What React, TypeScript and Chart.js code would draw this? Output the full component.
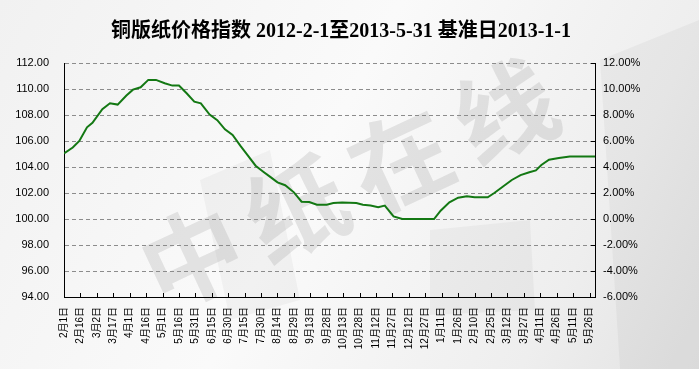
import React, { useEffect, useRef } from "react";
import { Chart, registerables } from "chart.js";

Chart.register(...registerables);

const titleText = "铜版纸价格指数 2012-2-1至2013-5-31 基准日2013-1-1";
const watermarkChars = ["中", "纸", "在", "线"];

// day offsets from 2012-02-01
const dayOffsets = [0, 8, 14, 21, 26, 35, 42, 49, 57, 63, 70, 77, 84, 92, 99, 105, 112, 119, 125, 133, 140, 147, 154, 161, 168, 175, 182, 189, 195, 202, 210, 217, 224, 231, 240, 246, 254, 267, 273, 280, 287, 293, 301, 309, 324, 338, 344, 352, 360, 368, 375, 387, 393, 401, 409, 417, 425, 431, 436, 443, 452, 462, 470, 485];
const indexValues = [105.05, 105.5, 106.0, 107.05, 107.4, 108.45, 108.9, 108.8, 109.5, 109.95, 110.13, 110.7, 110.7, 110.44, 110.26, 110.26, 109.67, 109.03, 108.9, 108.03, 107.6, 106.9, 106.46, 105.64, 104.87, 104.1, 103.64, 103.2, 102.82, 102.6, 102.05, 101.33, 101.3, 101.1, 101.1, 101.23, 101.26, 101.23, 101.1, 101.03, 100.9, 101.03, 100.2, 100.0, 100.0, 100.0, 100.64, 101.28, 101.64, 101.74, 101.67, 101.67, 102.0, 102.5, 103.0, 103.38, 103.6, 103.74, 104.15, 104.56, 104.69, 104.8, 104.8, 104.8];

const tickLabels = ["2月1日", "2月16日", "3月2日", "3月17日", "4月1日", "4月16日", "5月1日", "5月16日", "5月31日", "6月15日", "6月30日", "7月15日", "7月30日", "8月14日", "8月29日", "9月13日", "9月28日", "10月13日", "10月28日", "11月12日", "11月27日", "12月12日", "12月27日", "1月11日", "1月26日", "2月10日", "2月25日", "3月12日", "3月27日", "4月11日", "4月26日", "5月11日", "5月26日"];
const tickDays = tickLabels.map((_, i) => i * 15);
const totalDays = 485;

const bgPlugin = {
  id: "bg",
  beforeDraw(chart: any) {
    const { ctx, width, height } = chart;
    ctx.save();
    const g = ctx.createLinearGradient(0, 0, width, height);
    g.addColorStop(0, "#f1f1f1");
    g.addColorStop(0.45, "#fafafa");
    g.addColorStop(0.8, "#eeeeee");
    g.addColorStop(1, "#e2e2e2");
    ctx.fillStyle = g;
    ctx.fillRect(0, 0, width, height);
    // faint shapes
    ctx.fillStyle = "rgba(0,0,0,0.035)";
    ctx.beginPath();
    ctx.moveTo(600, 60); ctx.lineTo(699, 20); ctx.lineTo(699, 369); ctx.lineTo(620, 369);
    ctx.closePath(); ctx.fill();
    ctx.beginPath();
    ctx.moveTo(430, 230); ctx.lineTo(530, 220); ctx.lineTo(535, 310); ctx.lineTo(430, 315);
    ctx.closePath(); ctx.fill();
    ctx.beginPath();
    ctx.moveTo(200, 180); ctx.lineTo(270, 150); ctx.lineTo(300, 300); ctx.lineTo(230, 320);
    ctx.closePath(); ctx.fill();
    // watermark
    ctx.fillStyle = "rgba(90,90,90,0.14)";
    ctx.font = "bold 100px 'Noto Sans CJK SC'";
    ctx.textAlign = "center";
    ctx.textBaseline = "middle";
    const ang = -25 * Math.PI / 180;
    const cx0 = 192, cy0 = 257, step = 115;
    watermarkChars.forEach((c, i) => {
      ctx.save();
      ctx.translate(cx0 + Math.cos(ang) * step * i, cy0 + Math.sin(ang) * step * i);
      ctx.rotate(ang);
      ctx.fillText(c, 0, 0);
      ctx.restore();
    });
    ctx.restore();
  },
  afterDraw(chart: any) {
    const { ctx, chartArea } = chart;
    const xs = chart.scales.x;
    const yr = chart.scales.yR;
    ctx.save();
    ctx.strokeStyle = "#000";
    ctx.lineWidth = 1;
    ctx.beginPath();
    tickDays.forEach((d) => {
      const px = Math.round(xs.getPixelForValue(d)) + 0.5;
      ctx.moveTo(px, chartArea.bottom);
      ctx.lineTo(px, chartArea.bottom - 4);
    });
    yr.ticks.forEach((t: any) => {
      const py = Math.round(yr.getPixelForValue(t.value)) + 0.5;
      ctx.moveTo(chartArea.right, py);
      ctx.lineTo(chartArea.right - 4, py);
    });
    ctx.stroke();
    // title
    ctx.fillStyle = "#000";
    ctx.font = "bold 20px 'Liberation Serif', 'Noto Sans CJK SC'";
    ctx.textAlign = "center";
    ctx.textBaseline = "middle";
    ctx.fillText(titleText, 341, 32, 473);
    ctx.restore();
  },
};

export default function App() {
  const ref = useRef<HTMLCanvasElement>(null);
  useEffect(() => {
    const canvas = ref.current!;
    const tickFont = { family: "'Liberation Sans', 'Noto Sans CJK SC'", size: 11 };
    const chart = new Chart(canvas, {
      type: "line",
      data: {
        datasets: [
          {
            data: dayOffsets.map((d, i) => ({ x: d, y: indexValues[i] })),
            borderColor: "#137813",
            borderWidth: 2,
            pointRadius: 0,
            tension: 0,
            fill: false,
            yAxisID: "y",
          },
        ],
      },
      options: {
        animation: false,
        responsive: false,
        devicePixelRatio: 1,
        layout: { padding: { top: 63, left: 0, right: 0, bottom: 0 } },
        plugins: { legend: { display: false }, title: { display: false }, tooltip: { enabled: false } },
        scales: {
          x: {
            type: "linear",
            min: 0,
            max: totalDays,
            afterBuildTicks: (s: any) => {
              s.ticks = tickDays.map((v) => ({ value: v }));
            },
            afterFit: (s: any) => { s.height = 72; },
            grid: { display: false, drawTicks: false },
            border: { display: true, color: "#000", width: 1 },
            ticks: {
              autoSkip: false,
              minRotation: 90,
              maxRotation: 90,
              padding: 10,
              color: "#000",
              font: { family: "'Liberation Sans', 'Noto Sans CJK SC'", size: 10 },
              callback: (_v: any, i: number) => tickLabels[i],
            },
          },
          y: {
            position: "left",
            min: 94,
            max: 112,
            afterFit: (s: any) => { s.width = 64; },
            grid: { color: "#8c8c8c", lineWidth: 1, drawTicks: false },
            border: { display: true, color: "#000", width: 1, dash: [4, 3] },
            ticks: {
              stepSize: 2,
              padding: 15,
              color: "#000",
              font: tickFont,
              callback: (v: any) => Number(v).toFixed(2),
            },
          },
          yR: {
            position: "right",
            min: -6,
            max: 12,
            afterFit: (s: any) => { s.width = 104; },
            grid: { drawOnChartArea: false, drawTicks: false },
            border: { display: true, color: "#000", width: 1 },
            ticks: {
              stepSize: 2,
              padding: 8,
              color: "#000",
              font: tickFont,
              callback: (v: any) => Number(v).toFixed(2) + "%",
            },
          },
        },
      },
      plugins: [bgPlugin],
    } as any);
    return () => chart.destroy();
  }, []);
  return (
    <div style={{ position: "absolute", left: 0, top: 0, width: 699, height: 369 }}>
      <canvas ref={ref} width={699} height={369} />
    </div>
  );
}
